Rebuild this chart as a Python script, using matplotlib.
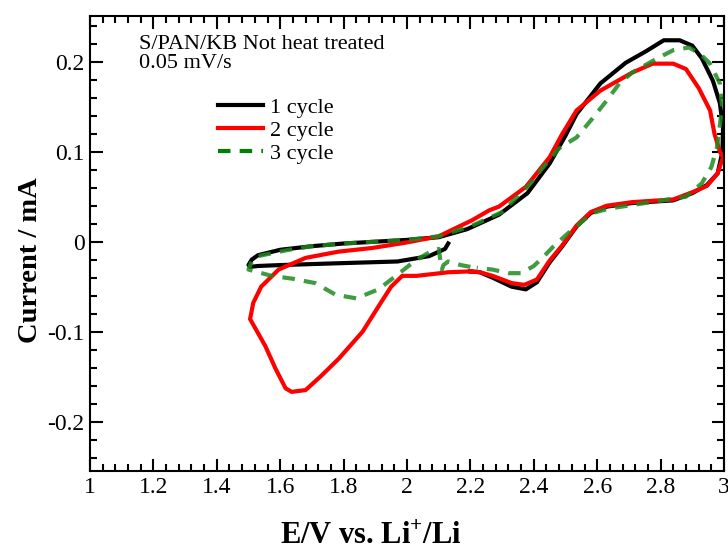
import numpy as np
import matplotlib
matplotlib.use('Agg')
import matplotlib.pyplot as plt
from matplotlib.ticker import MultipleLocator, FormatStrFormatter

plt.rcParams['font.family'] = ['Liberation Serif', 'DejaVu Serif']
plt.rcParams['axes.unicode_minus'] = False
plt.rcParams['mathtext.fontset'] = 'custom'
plt.rcParams['mathtext.rm'] = 'Liberation Serif'
plt.rcParams['mathtext.bf'] = 'Liberation Serif:bold'

# cycle 1: OCV -> 1.5 V -> 3.0 V -> back to ~2.2 V
E1 = [2.13, 2.12, 2.07, 1.97, 1.78, 1.6, 1.53, 1.505, 1.50, 1.51, 1.53, 1.6, 1.7, 1.8, 1.9,
      2.0, 2.1, 2.19, 2.29, 2.38, 2.45, 2.50, 2.535, 2.61, 2.69, 2.755, 2.81, 2.86, 2.90,
      2.93, 2.965, 2.987, 2.997, 2.995, 2.98, 2.946, 2.90, 2.84, 2.71, 2.63, 2.58, 2.535,
      2.49, 2.45, 2.41, 2.375, 2.33, 2.27, 2.23, 2.20]
I1 = [-0.002, -0.008, -0.016, -0.022, -0.024, -0.026, -0.027, -0.028, -0.026, -0.020,
      -0.015, -0.009, -0.005, -0.002, 0.0, 0.002, 0.005, 0.014, 0.030, 0.054, 0.087,
      0.118, 0.142, 0.176, 0.199, 0.212, 0.224, 0.224, 0.218, 0.204, 0.179, 0.154, 0.127,
      0.100, 0.076, 0.063, 0.054, 0.046, 0.043, 0.039, 0.032, 0.017, -0.005, -0.023,
      -0.045, -0.053, -0.050, -0.040, -0.034, -0.033]

# cycle 2
E2 = [2.20, 2.13, 2.03, 1.985, 1.95, 1.91, 1.86, 1.785, 1.73, 1.68, 1.636, 1.617, 1.585,
      1.553, 1.505, 1.515, 1.54, 1.595, 1.68, 1.785, 1.89, 1.997, 2.10, 2.206, 2.26, 2.29,
      2.375, 2.45, 2.49, 2.535, 2.61, 2.71, 2.775, 2.84, 2.88, 2.92, 2.956, 2.97, 2.987,
      2.997, 2.98, 2.946, 2.90, 2.84, 2.71, 2.63, 2.58, 2.535, 2.49, 2.45, 2.41, 2.37,
      2.33, 2.27, 2.23, 2.20]
I2 = [-0.033, -0.034, -0.038, -0.038, -0.050, -0.072, -0.100, -0.130, -0.149, -0.165,
      -0.167, -0.163, -0.141, -0.116, -0.086, -0.068, -0.050, -0.031, -0.018, -0.011,
      -0.007, -0.001, 0.006, 0.024, 0.035, 0.039, 0.061, 0.094, 0.120, 0.146, 0.168,
      0.188, 0.198, 0.198, 0.192, 0.171, 0.146, 0.120, 0.100, 0.094, 0.076, 0.062, 0.055,
      0.047, 0.044, 0.040, 0.033, 0.018, -0.004, -0.021, -0.042, -0.048, -0.046, -0.038,
      -0.034, -0.033]

# cycle 3
E3 = [2.20, 2.17, 2.13, 2.115, 2.11, 2.105, 2.10, 2.07, 2.03, 1.965, 1.91, 1.84, 1.775,
      1.71, 1.636, 1.573, 1.50, 1.51, 1.53, 1.627, 1.7, 1.8, 1.9, 2.0, 2.1, 2.2, 2.3, 2.39,
      2.43, 2.48, 2.535, 2.585, 2.63, 2.67, 2.71, 2.79, 2.84, 2.89, 2.924, 2.956, 2.987,
      2.994, 2.978, 2.96, 2.93, 2.88, 2.77, 2.64, 2.585, 2.51, 2.46, 2.43, 2.40, 2.36,
      2.32, 2.27, 2.22]
I3 = [-0.028, -0.026, -0.022, -0.026, -0.031, -0.020, -0.008, -0.012, -0.020, -0.038,
      -0.053, -0.063, -0.059, -0.046, -0.041, -0.038, -0.031, -0.022, -0.016, -0.009,
      -0.005, -0.002, 0.0, 0.002, 0.006, 0.017, 0.033, 0.065, 0.083, 0.104, 0.116, 0.137,
      0.157, 0.176, 0.188, 0.204, 0.213, 0.216, 0.209, 0.198, 0.176, 0.149, 0.105, 0.083,
      0.065, 0.050, 0.044, 0.037, 0.032, 0.010, -0.006, -0.017, -0.027, -0.035, -0.035,
      -0.031, -0.029]

fig = plt.figure(figsize=(7.28, 5.55), dpi=100)
ax = fig.add_axes([90 / 728, 1 - 471 / 555, 634 / 728, 455 / 555])

ax.plot(E1, I1, color='black', lw=3.0, label='1 cycle')
ax.plot(E2, I2, color='red', lw=3.0, label='2 cycle')
ax.plot(E3, I3, color='#1f8a1f', lw=3.0, ls=(0, (3, 2.2)), alpha=0.85, label='3 cycle')

ax.set_xlim(1, 3)
ax.set_ylim(-0.255, 0.251)
ax.xaxis.set_major_locator(MultipleLocator(0.2))
ax.xaxis.set_minor_locator(MultipleLocator(0.04))
ax.yaxis.set_major_locator(MultipleLocator(0.1))
ax.yaxis.set_minor_locator(MultipleLocator(0.02))
ax.xaxis.set_major_formatter(FormatStrFormatter('%g'))
ax.yaxis.set_major_formatter(FormatStrFormatter('%g'))
ax.tick_params(which='both', direction='in', top=True, right=True, width=1.5,
               labelsize=17, pad=4)
ax.tick_params(which='major', length=9)
ax.tick_params(which='minor', length=5)
for s in ax.spines.values():
    s.set_linewidth(1.5)

ax.set_xlabel('E/V vs. Li$^{\\mathbf{+}}$/Li', fontsize=22, fontweight='bold')
ax.xaxis.set_label_coords(0.443, -0.112)
ax.set_ylabel('Current / mA', fontsize=20.5, fontweight='bold')
ax.yaxis.set_label_coords(-0.074, 0.464)

ax.text(0.077, 0.958, 'S/PAN/KB Not heat treated\n0.05 mV/s', transform=ax.transAxes,
        fontsize=16, va='top', ha='left', linespacing=1.02)

leg = ax.legend(loc='upper left', bbox_to_anchor=(0.185, 0.845), frameon=False, fontsize=16,
                borderpad=0, handlelength=2.0, handletextpad=0.3, labelspacing=0.1)
leg.get_lines()[2].set_alpha(1.0)
leg.get_lines()[2].set_color('green')

fig.savefig('out.png', dpi=100)
